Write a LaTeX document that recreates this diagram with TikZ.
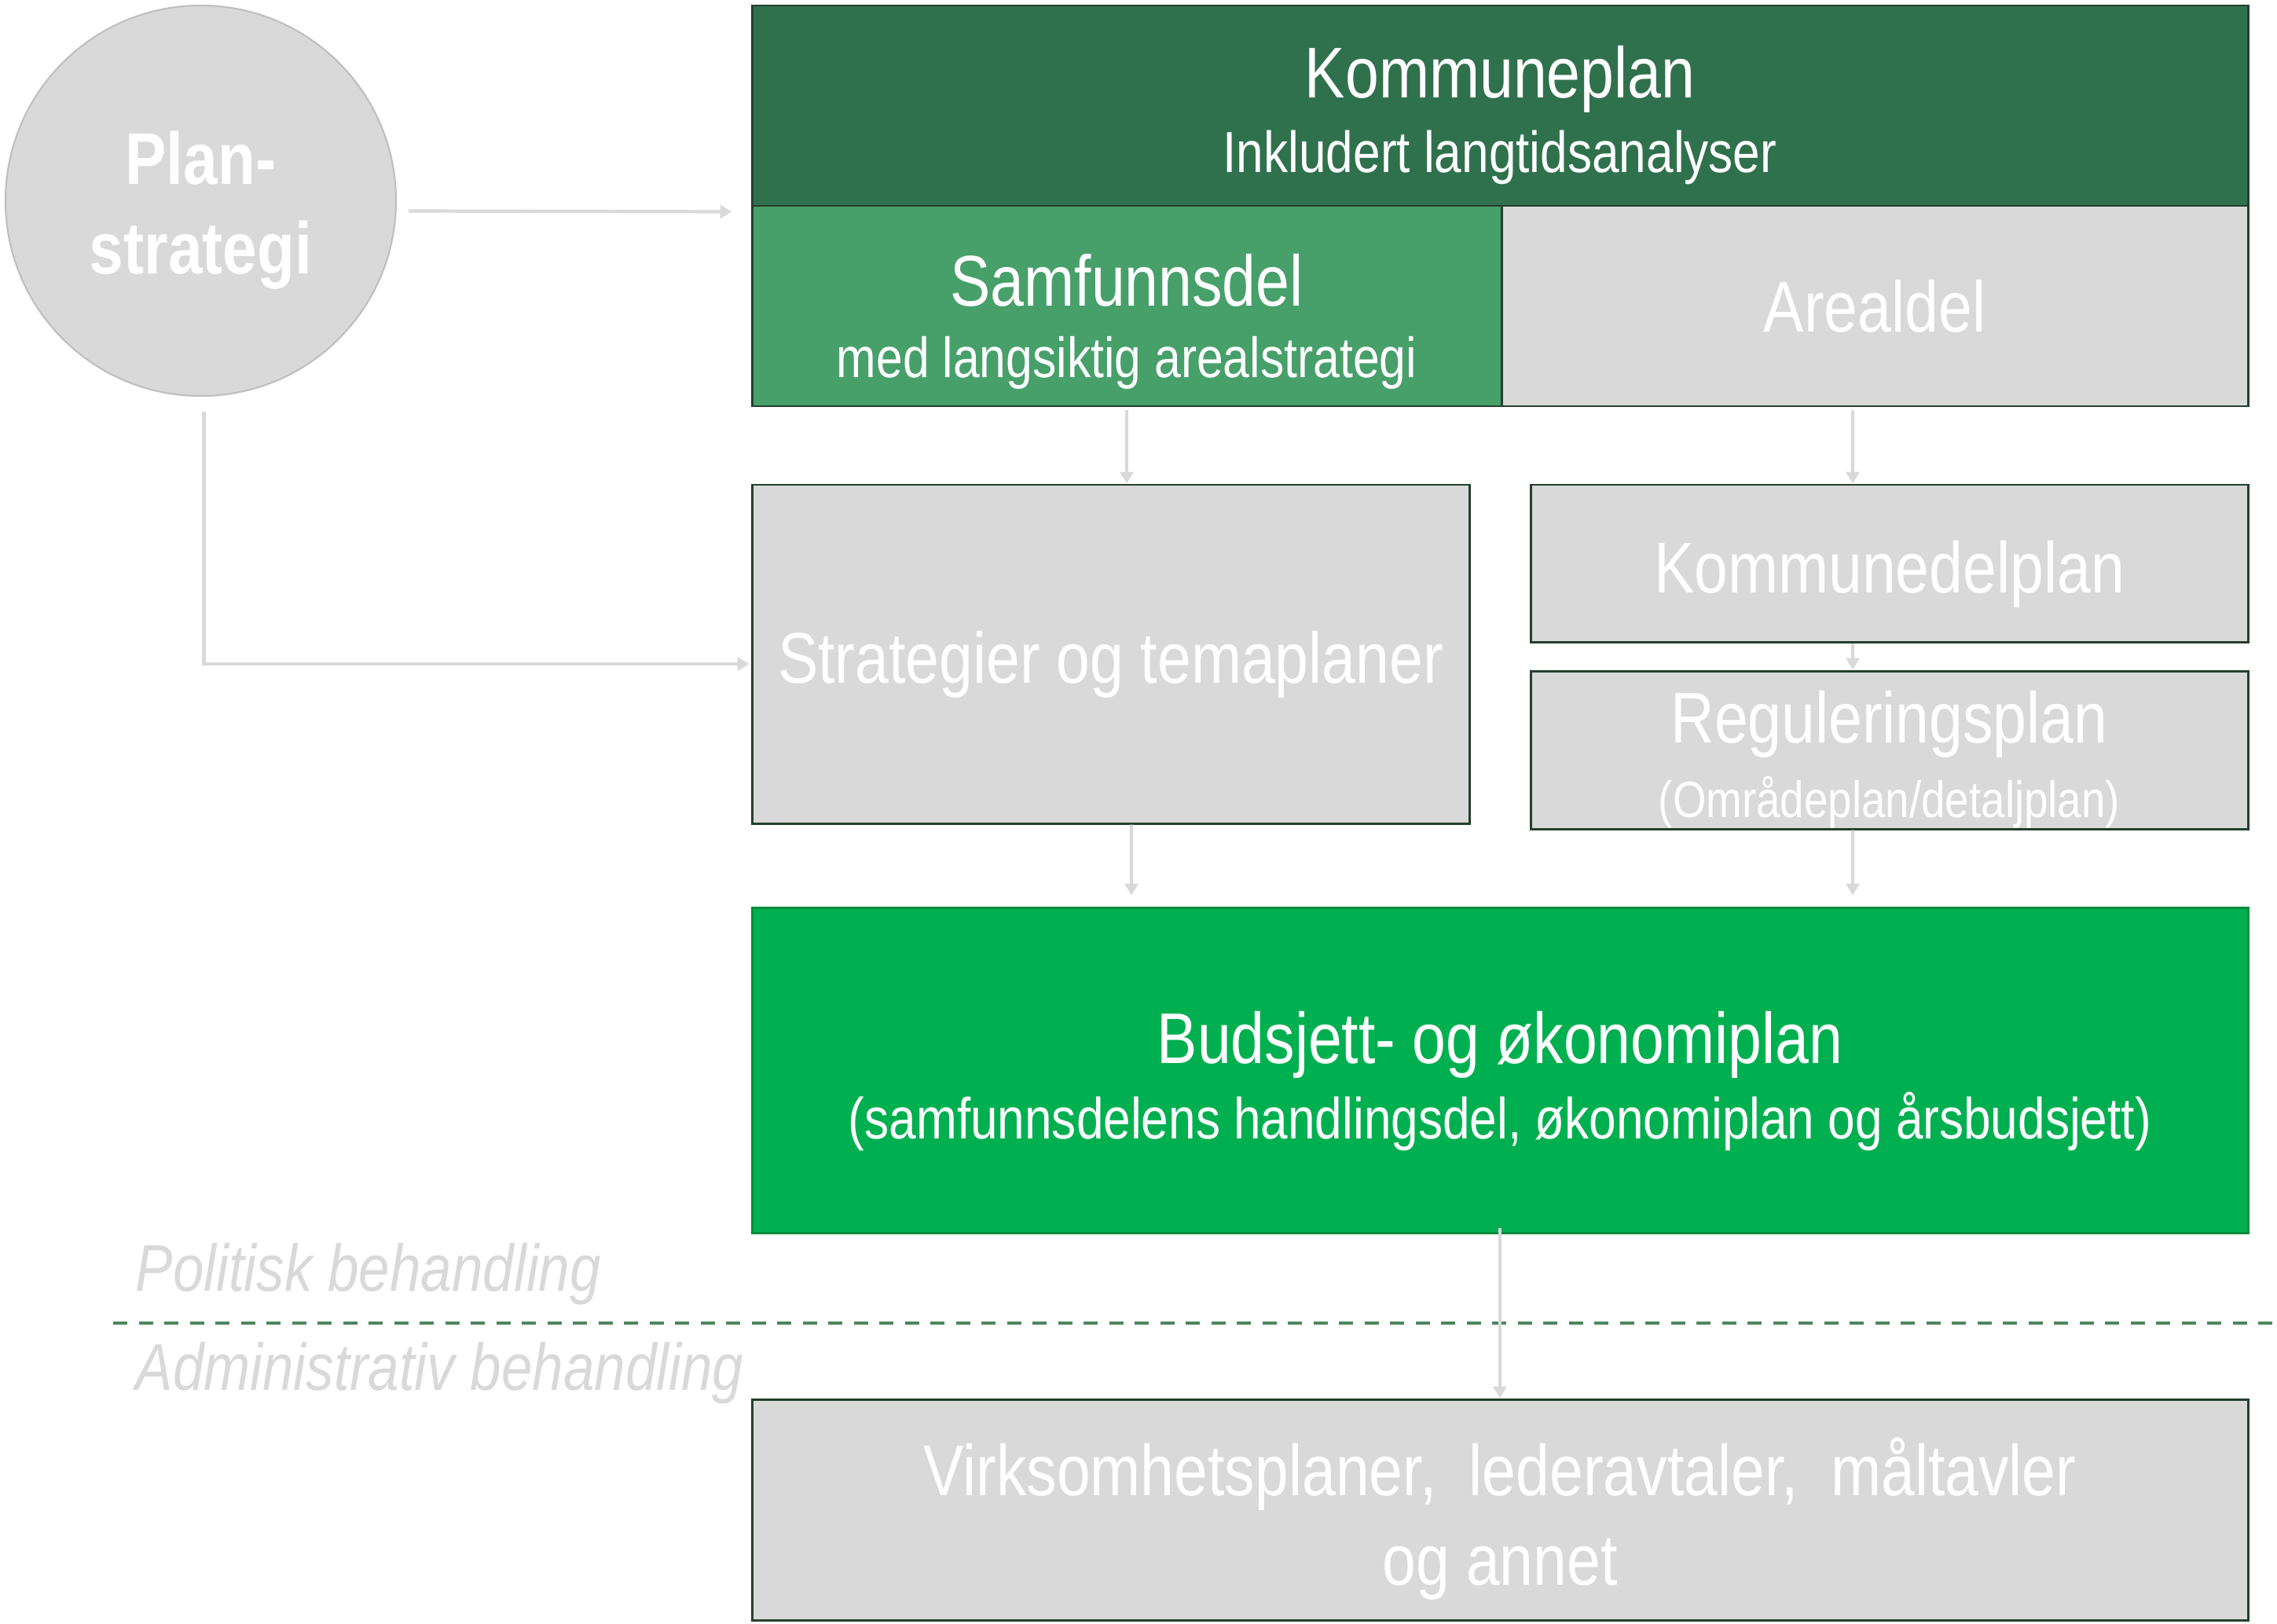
\documentclass[tikz,border=0pt]{standalone}
\usepackage{fontspec}
\setmainfont{Liberation Sans}[FakeStretch=0.842]
\usetikzlibrary{arrows.meta}

\definecolor{morkgronn}{RGB}{48,113,77}
\definecolor{mellomgronn}{RGB}{71,160,106}
\definecolor{budgronn}{RGB}{0,176,80}
\definecolor{budkant}{RGB}{0,140,62}
\definecolor{graa}{RGB}{217,217,217}
\definecolor{kant}{RGB}{37,63,46}
\definecolor{sirkelkant}{RGB}{191,191,191}
\definecolor{skillelinje}{RGB}{78,134,94}

\newcommand{\hovedtxt}{\fontsize{26}{30}\selectfont}
\newcommand{\undertxt}{\fontsize{21}{25}\selectfont}
\newcommand{\sidetxt}{\fontsize{24}{29}\selectfont}

\tikzset{
  boks/.style={rectangle, draw=kant, line width=0.85pt, inner sep=0pt, align=center, text=white, font=\hovedtxt},
  linje/.style={anchor=base, inner sep=0pt, text=white, font=\hovedtxt},
  pil/.style={draw=graa, line width=1.2pt, -{Triangle[length=0.15cm,width=0.17cm]}},
  sidetekst/.style={anchor=west, inner sep=0pt, text=graa, font=\sidetxt\itshape},
  skille/.style={draw=skillelinje, line width=0.04cm, dash pattern=on 0.18cm off 0.145cm}
}

\begin{document}
\begin{tikzpicture}
\useasboundingbox (0,0) rectangle (28.98,-20.67);

\node[circle, fill=graa, draw=sirkelkant, line width=0.6pt, minimum size=4.97cm, inner sep=0pt] (plan) at (2.555,-2.555) {};
\node[linje, font=\fontsize{26.5}{30}\selectfont\bfseries] (plan-a) at (2.555,-2.35) {Plan-};
\node[linje, font=\fontsize{26.5}{30}\selectfont\bfseries] (plan-b) at (2.555,-3.49) {strategi};

\node[boks, fill=morkgronn, minimum width=19.04cm, minimum height=2.55cm] (kplan) at (19.09,-1.345) {};
\node[linje] (kplan-a) at (19.09,-1.25) {Kommuneplan};
\node[linje, font=\undertxt] (kplan-b) at (19.09,-2.20) {Inkludert langtidsanalyser};

\node[boks, fill=mellomgronn, minimum width=9.54cm, minimum height=2.55cm] (samf) at (14.34,-3.895) {};
\node[linje] (samf-a) at (14.34,-3.90) {Samfunnsdel};
\node[linje, font=\fontsize{20.5}{25}\selectfont] (samf-b) at (14.34,-4.80) {med langsiktig arealstrategi};

\node[boks, fill=graa, minimum width=9.50cm, minimum height=2.55cm] (areal) at (23.86,-3.895) {Arealdel};

\node[boks, fill=graa, minimum width=9.13cm, minimum height=4.31cm] (strat) at (14.135,-8.325) {};
\node[linje] (strat-a) at (14.135,-8.69) {Strategier og temaplaner};

\node[boks, fill=graa, minimum width=9.13cm, minimum height=2.0cm] (kdel) at (24.045,-7.17) {};
\node[linje] (kdel-a) at (24.045,-7.54) {Kommunedelplan};

\node[boks, fill=graa, minimum width=9.13cm, minimum height=2.01cm] (reg) at (24.045,-9.545) {};
\node[linje] (reg-a) at (24.045,-9.45) {Reguleringsplan};
\node[linje, font=\fontsize{18.5}{22}\selectfont] (reg-b) at (24.045,-10.40) {(Områdeplan/detaljplan)};

\node[boks, draw=budkant, fill=budgronn, minimum width=19.04cm, minimum height=4.14cm] (buds) at (19.09,-13.62) {};
\node[linje] (buds-a) at (19.09,-13.53) {Budsjett- og økonomiplan};
\node[linje, font=\undertxt] (buds-b) at (19.09,-14.49) {(samfunnsdelens handlingsdel, økonomiplan og årsbudsjett)};

\node[boks, fill=graa, minimum width=19.04cm, minimum height=2.81cm] (virk) at (19.09,-19.215) {};
\node[linje] (virk-a) at (19.09,-19.03) {Virksomhetsplaner,\hspace{0.2cm} lederavtaler,\hspace{0.2cm} måltavler};
\node[linje] (virk-b) at (19.09,-20.17) {og annet};

\node[sidetekst] (polit) at (1.72,-16.22) {Politisk behandling};
\node[sidetekst] (admin) at (1.72,-17.48) {Administrativ behandling};
\draw[skille] (1.44,-16.84) -- (28.98,-16.84);

\draw[pil] ([shift={(0.15,-0.13)}]plan.east) -- ([shift={(-0.24,-0.06)}]kplan.south west);
\draw[pil] ([shift={(0.04,-0.19)}]plan.south) |- ([shift={(-0.02,-0.125)}]strat.west);
\draw[pil] ([yshift=-0.04cm]samf.south) -- (samf.south |- strat.north);
\draw[pil] ([shift={(-0.28,-0.04)}]areal.south) -- ([xshift=-0.28cm]areal.south |- kdel.north);
\draw[pil] ([xshift=-0.465cm]kdel.south) -- ([xshift=-0.465cm]kdel.south |- reg.north);
\draw[pil] ([xshift=0.265cm]strat.south) -- ([shift={(0.265,0.14)}]strat.south |- buds.north);
\draw[pil] ([xshift=-0.465cm]reg.south) -- ([shift={(-0.465,0.14)}]reg.south |- buds.north);
\draw[pil] ([yshift=0.08cm]buds.south) -- (virk.north);

\end{tikzpicture}
\end{document}
